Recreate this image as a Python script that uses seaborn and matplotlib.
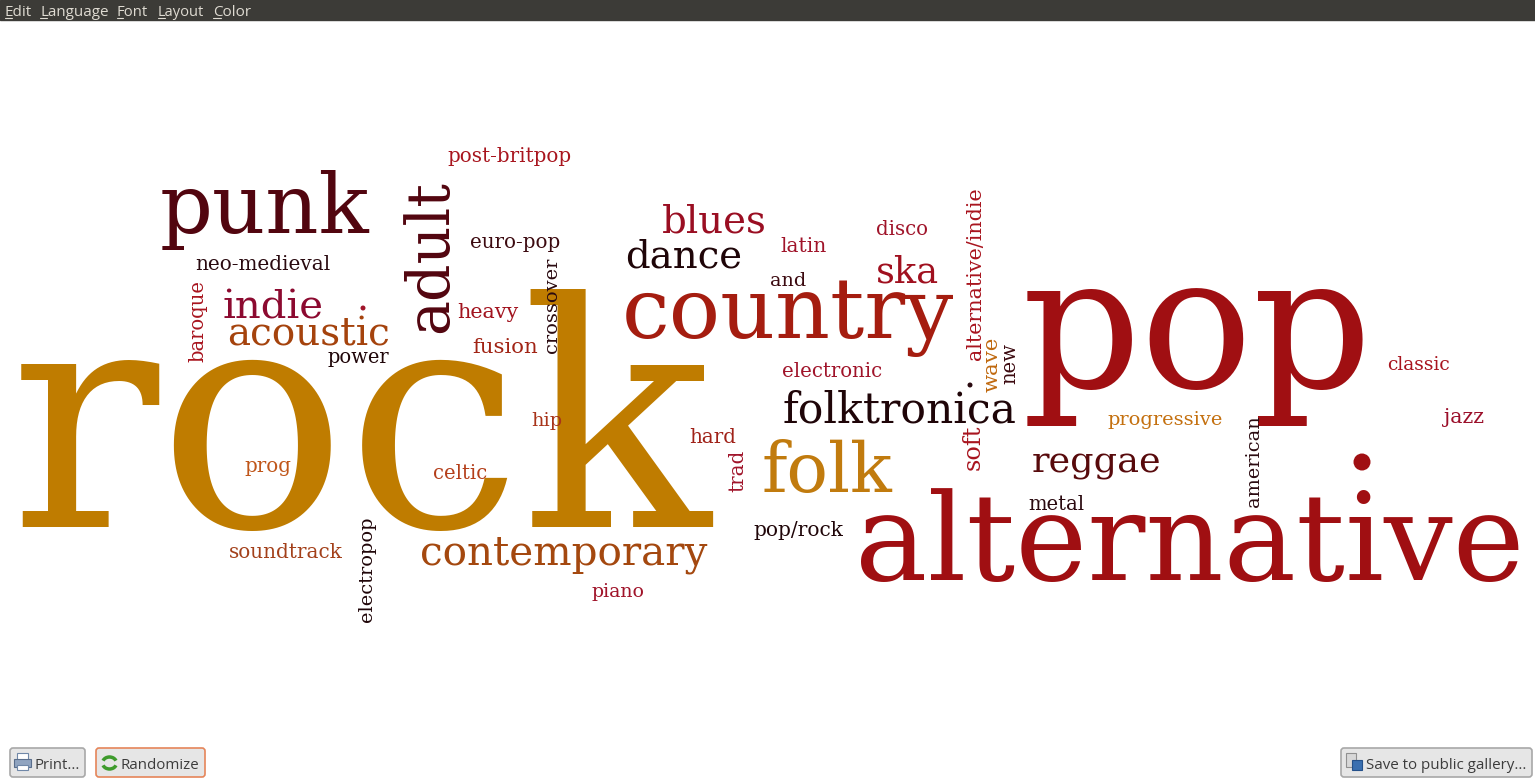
import matplotlib
matplotlib.use("Agg")
import matplotlib.pyplot as plt
import seaborn as sns
from matplotlib.patches import Rectangle, FancyBboxPatch, Arc

sns.set_theme(style="white")
plt.rcParams['font.family'] = ['DejaVu Serif', 'Liberation Serif']

# ---------------------------------------------------------------- data
words = ["rock", "pop", "alternative", "country", "punk", "folk", "folktronica",
         "contemporary", "dance", "blues", "ska", "reggae", "indie", "acoustic",
         "neo-medieval", "post-britpop", "euro-pop", "heavy", "fusion", "power",
         "latin", "and", "disco", "electronic", "classic", "progressive", "jazz",
         "metal", "pop/rock", "hip", "hard", "prog", "celtic", "soundtrack", "piano",
         "adult", "baroque", "crossover", "alternative/indie", "wave", "new", "soft",
         "trad", "american", "electropop"]

word_colors = ["#BF7C00", "#A00F12", "#A00F12", "#A51D10", "#52050F", "#C17B0E", "#1F0508",
               "#A4480F", "#1F0508", "#9A0E22", "#A0101F", "#580A0C", "#8C0A30", "#A5430D",
               "#2A0A10", "#A8151E", "#3C0A10", "#A2141F", "#A12415", "#1F0508",
               "#A0142A", "#3C0A10", "#A0142A", "#A0142A", "#A8141E", "#C4700F", "#9B0F2A",
               "#2A0A10", "#1F0508", "#A8341A", "#A02219", "#C0561A", "#B43E1A", "#A3401A", "#A0142A",
               "#52050F", "#A8141E", "#2A0A10", "#A8141E", "#C0690F", "#3C0A10", "#A8141E",
               "#A0142A", "#2A0A10", "#1F0508"]

# stray "." tokens of the cloud
dot_colors = ["#A00F12", "#A0142A", "#2A0A10"]

menu_items = ["Edit", "Language", "Font", "Layout", "Color"]
buttons = ["Print...", "Randomize", "Save to public gallery..."]

# ---------------------------------------------------------------- layout (pixels)
# horizontal words: left, baseline, width ; vertical words: baseline x, bottom y, height
pos_x = [10, 1022, 855, 622, 160, 762, 783,
         420, 625, 662, 876, 1032, 222, 227,
         195, 447, 470, 457, 472, 328,
         780, 770, 876, 782, 1387, 1107, 1444,
         1028, 753, 531, 689, 244, 433, 229, 591,
         447, 203, 557, 981, 998, 1015, 980,
         743, 1259, 372]
pos_y = [527, 387, 580, 338, 233, 492, 422,
         565, 267, 232, 282, 472, 318, 345,
         270, 162, 248, 318, 353, 363,
         252, 286, 235, 377, 370, 425, 423,
         510, 536, 426, 443, 472, 479, 558, 597,
         333, 362, 353, 360, 392, 384, 470,
         492, 507, 622]
extent = [702, 351, 670, 332, 210, 131, 234,
          288, 117, 105, 63, 129, 101, 163,
          135, 124, 90, 61, 66, 62,
          46, 36, 52, 100, 63, 115, 40,
          56, 90, 31, 47, 47, 54, 114, 53,
          153, 82, 95, 172, 55, 41, 45,
          42, 91, 105]
rot = [0] * 35 + [90] * 10

dot_x = [1362, 363, 970]
dot_y = [462, 308, 385]
dot_d = [17, 5, 5]

W, H = 1535, 779
fig = plt.figure(figsize=(W / 100, H / 100), dpi=100)
ax = fig.add_axes([0, 0, 1, 1])
ax.set_xlim(0, W)
ax.set_ylim(H, 0)
ax.axis("off")
fig.patch.set_facecolor("white")
renderer = fig.canvas.get_renderer()


def fit_text(s, x, y, length, color, r=0, family=None):
    t = ax.text(x, y, s, fontsize=100, color=color, rotation=r, rotation_mode="anchor",
                ha="left", va="baseline", family=family)
    bb = t.get_window_extent(renderer)
    cur = bb.height if r else bb.width
    t.set_fontsize(100 * length / cur)
    return t


palette = sns.color_palette(word_colors)
for i, w in enumerate(words):
    fit_text(w, pos_x[i], pos_y[i], extent[i], palette[i], rot[i])

# dots: size in points^2 from pixel diameter
ax.scatter(dot_x, dot_y, s=[(d * 0.72) ** 2 for d in dot_d], c=dot_colors, linewidths=0)

# ---------------------------------------------------------------- menu bar
ax.add_patch(Rectangle((0, 0), W, 20, color="#3C3B37", zorder=0))
menu_x = [5, 40, 117, 158, 213]
menu_w = [27, 68, 31, 46, 38]
first_w = [7, 7, 6, 7, 8]
for m, x, w, fw in zip(menu_items, menu_x, menu_w, first_w):
    fit_text(m, x, 16, w, "#DFDBD2", family=["Open Sans", "DejaVu Sans"])
    ax.plot([x, x + fw], [18, 18], color="#DFDBD2", lw=0.8)

# ---------------------------------------------------------------- buttons
btn_x = [10, 96, 1341]
btn_w = [75, 109, 191]
btn_edge = ["#A8A8A8", "#E5855A", "#A8A8A8"]
txt_x = [35, 121, 1366]
txt_w = [45, 78, 160]
for b, bx, bw, be, tx, tw in zip(buttons, btn_x, btn_w, btn_edge, txt_x, txt_w):
    ax.add_patch(FancyBboxPatch((bx, 748), bw, 29, boxstyle="round,pad=0,rounding_size=3",
                                facecolor="#E6E6E6", edgecolor=be, lw=1.2))
    fit_text(b, tx, 769, tw, "#3C3C3C", family=["Open Sans", "DejaVu Sans"])

# printer icon
ax.add_patch(Rectangle((17, 753), 11, 7, facecolor="white", edgecolor="#7088A8", lw=0.8))
ax.add_patch(Rectangle((14, 759), 17, 8, facecolor="#90A4C0", edgecolor="#5A6E8C", lw=0.8))
ax.add_patch(Rectangle((17, 765), 11, 5, facecolor="white", edgecolor="#7088A8", lw=0.8))
# randomize arrows
ax.add_patch(Arc((109.5, 763), 14, 12, theta1=20, theta2=160, color="#3E9B2C", lw=2.5))
ax.add_patch(Arc((109.5, 763), 14, 12, theta1=200, theta2=340, color="#3E9B2C", lw=2.5))
# save icon
ax.add_patch(Rectangle((1346, 753), 10, 14, facecolor="#D8D8D8", edgecolor="#909090", lw=0.8))
ax.add_patch(Rectangle((1352, 760), 10, 10, facecolor="#3A6FB0", edgecolor="#24508A", lw=0.8))

fig.savefig("out.png", dpi=100, facecolor="white")
